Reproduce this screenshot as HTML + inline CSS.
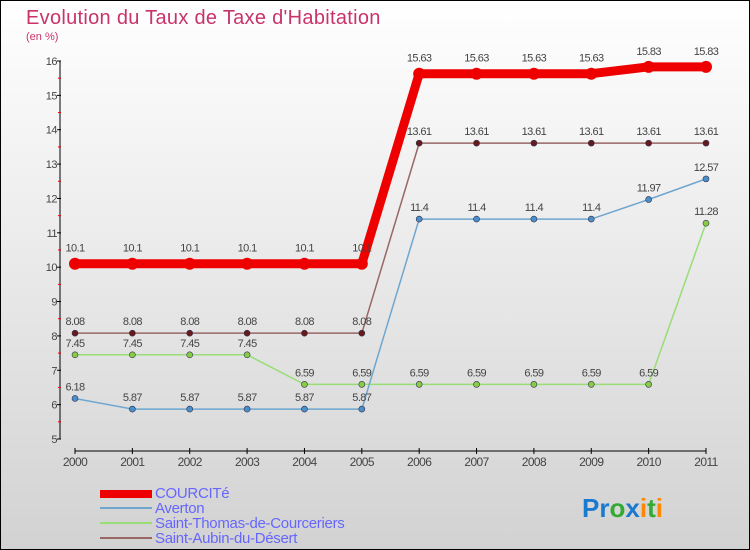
<!DOCTYPE html>
<html><head><meta charset="utf-8"><style>
body{margin:0}
svg{display:block;font-family:"Liberation Sans",sans-serif}
</style></head><body>
<svg id="c" width="750" height="550" xmlns="http://www.w3.org/2000/svg">
<defs><linearGradient id="bg" x1="0" y1="0" x2="0" y2="1"><stop offset="0" stop-color="#ffffff"/><stop offset="1" stop-color="#d2d2d2"/></linearGradient></defs>
<rect x="0.5" y="0.5" width="749" height="549" fill="url(#bg)" stroke="#000"/>
<text x="26" y="24" font-size="20" fill="#c8336a" letter-spacing="0.3">Evolution du Taux de Taxe d'Habitation</text>
<text x="26" y="40" font-size="11" fill="#c8336a">(en %)</text>
<g id="axes"></g><g id="series"></g>
<g font-size="15" letter-spacing="-0.3">
<rect x="100" y="490" width="52" height="8" fill="#e00"/>
<text x="155" y="498" fill="#6666ff">COURCITé</text>
<line x1="100" y1="508" x2="152" y2="508" stroke="#6fa6d0" stroke-width="2"/>
<text x="155" y="513" fill="#6666ff">Averton</text>
<line x1="100" y1="523" x2="152" y2="523" stroke="#99dd77" stroke-width="2"/>
<text x="155" y="528" fill="#6666ff">Saint-Thomas-de-Courceriers</text>
<line x1="100" y1="538" x2="152" y2="538" stroke="#996666" stroke-width="2"/>
<text x="155" y="543" fill="#6666ff">Saint-Aubin-du-Désert</text>
</g>
<text x="582" y="517" font-size="26" font-weight="bold"><tspan fill="#1a7ad0">Pr</tspan><tspan fill="#33aa33">o</tspan><tspan fill="#1a7ad0">x</tspan><tspan fill="#ff8800">i</tspan><tspan fill="#33aa33">t</tspan><tspan fill="#ff8800">i</tspan></text>
</svg>
<script>
const years=[2000,2001,2002,2003,2004,2005,2006,2007,2008,2009,2010,2011];
const yTicks=[5,6,7,8,9,10,11,12,13,14,15,16];
const courcite=[10.1,10.1,10.1,10.1,10.1,10.1,15.63,15.63,15.63,15.63,15.83,15.83];
const averton=[6.18,5.87,5.87,5.87,5.87,5.87,11.4,11.4,11.4,11.4,11.97,12.57];
const saintThomas=[7.45,7.45,7.45,7.45,6.59,6.59,6.59,6.59,6.59,6.59,6.59,11.28];
const saintAubin=[8.08,8.08,8.08,8.08,8.08,8.08,13.61,13.61,13.61,13.61,13.61,13.61];
const NS="http://www.w3.org/2000/svg";
const x=i=>75+i*(631/11);
const y=v=>439-(v-5)*(378/11);
function mk(t,a,p,txt){const e=document.createElementNS(NS,t);for(const k in a)e.setAttribute(k,a[k]);if(txt!==undefined)e.textContent=txt;p.appendChild(e);return e;}
const ax=document.getElementById('axes');
let e=mk('line',{x1:60,y1:61,x2:60,y2:439,stroke:'#000'},ax);


e=mk('line',{x1:75,y1:451,x2:706,y2:451,stroke:'#000'},ax);


yTicks.forEach(v=>{
 mk('line',{x1:57,y1:y(v),x2:61,y2:y(v),stroke:'#000'},ax);
 if(v<16){mk('line',{x1:58,y1:y(v+0.5),x2:61,y2:y(v+0.5),stroke:'#e00'},ax);}
 const t=mk('text',{x:57,y:y(v)+4,'font-size':11,fill:'#444','text-anchor':'end','letter-spacing':'-0.5'},ax,v);
 
 
});
years.forEach((yr,i)=>{
 mk('line',{x1:x(i),y1:448,x2:x(i),y2:454,stroke:'#000'},ax);
 const t=mk('text',{x:x(i),y:466,'font-size':12,fill:'#444','text-anchor':'middle','letter-spacing':'-0.6'},ax,yr);
 
 
});
const sg=document.getElementById('series');
function series(data,col,w,r,name,dotStroke){
 const g=mk('g',{},sg);
 
 
 mk('polyline',{points:data.map((v,i)=>x(i)+','+y(v)).join(' '),fill:'none',stroke:col,'stroke-width':w,'stroke-linejoin':'round'},g);
 data.forEach((v,i)=>{
  const c=mk('circle',{cx:x(i),cy:y(v),r:r,fill:dotStroke,stroke:'#335',"stroke-width":r>4?0:0.6},g);
  
  
  const t=mk('text',{x:x(i),y:y(v)-(r>4?12:8),'font-size':11,fill:'#444','text-anchor':'middle','letter-spacing':'-0.6'},g,v);
  
  
 });
}
series(saintThomas,'#99dd77',1.5,3,'series-saint-thomas','#88cc44');
series(averton,'#6fa6d0',1.5,3,'series-averton','#4a8fc8');
series(saintAubin,'#996666',1.5,3,'series-saint-aubin','#661a1a');
series(courcite,'#e00',9,6,'series-courcite','#e00');
</script>
</body></html>
